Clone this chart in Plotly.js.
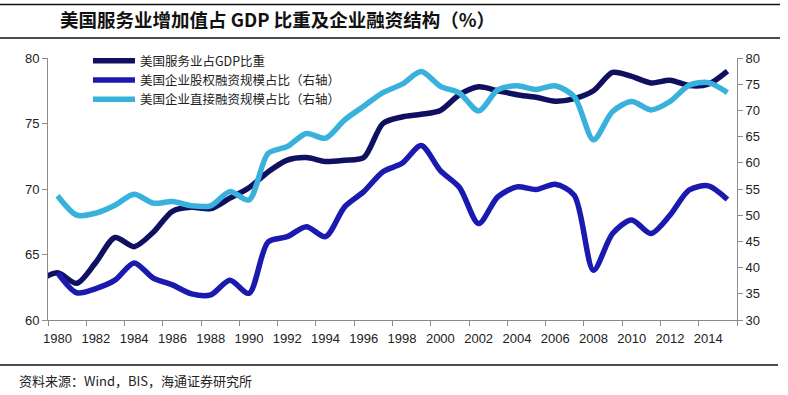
<!DOCTYPE html>
<html>
<head>
<meta charset="utf-8">
<script src="https://cdn.plot.ly/plotly-3.0.1.min.js"></script>
<style>html,body{margin:0;padding:0;background:#fff;}#chart{width:788px;height:395px;}</style>
</head>
<body>
<div id="chart"></div>
<script>
// Data
var years = [1980,1981,1982,1983,1984,1985,1986,1987,1988,1989,1990,1991,1992,1993,1994,1995,1996,1997,1998,1999,2000,2001,2002,2003,2004,2005,2006,2007,2008,2009,2010,2011,2012,2013,2014,2015];
var tickYears = [1980,1982,1984,1986,1988,1990,1992,1994,1996,1998,2000,2002,2004,2006,2008,2010,2012,2014];
// services share of GDP (left axis); series starts before 1980 and enters from the left edge
var serviceYears = [1979].concat(years);
var serviceShare = [63.0,63.6,62.8,64.4,66.3,65.6,66.7,68.3,68.6,68.5,69.3,70.1,71.3,72.2,72.4,72.1,72.2,72.4,75.0,75.5,75.7,76.0,77.2,77.8,77.5,77.2,77.0,76.7,76.9,77.5,78.9,78.6,78.1,78.3,77.9,78.0,79.0];
// equity financing share (right axis)
var equityShare = [39.0,35.2,36.0,37.6,40.9,38.0,36.7,35.0,34.8,37.6,35.1,44.9,45.9,47.8,45.9,51.6,54.5,58.3,59.9,63.3,58.5,55.3,48.4,53.5,55.4,54.9,55.9,53.8,39.5,46.5,49.1,46.5,50.0,54.8,55.6,53.0];
// direct financing share (right axis)
var directShare = [53.7,50.0,50.4,51.9,54.0,52.3,52.6,51.8,51.8,54.5,52.9,61.8,63.1,65.6,64.7,68.2,70.8,73.4,75.0,77.4,74.6,73.3,69.9,73.9,74.7,74.0,74.7,72.6,64.4,69.8,71.7,70.1,71.7,74.8,75.3,73.4];
var names = ['美国服务业占GDP比重','美国企业股权融资规模占比（右轴）','美国企业直接融资规模占比（右轴）'];
var colors = ['#0f1060','#1a1ab0','#38b2dc'];
var titleText = '美国服务业增加值占 GDP 比重及企业融资结构（%）';
var sourceText = '资料来源：Wind，BIS，海通证券研究所';

var cjk = '"Noto Sans CJK SC", "Noto Sans", sans-serif';
var latin = '"Liberation Sans", Arial, sans-serif';

var traces = [
  {x: serviceYears, y: serviceShare, name: names[0], type: 'scatter', mode: 'lines',
   line: {color: colors[0], width: 5.5, shape: 'spline', smoothing: 0.8}, yaxis: 'y'},
  {x: years, y: equityShare, name: names[1], type: 'scatter', mode: 'lines',
   line: {color: colors[1], width: 5.5, shape: 'spline', smoothing: 0.8}, yaxis: 'y2'},
  {x: years, y: directShare, name: names[2], type: 'scatter', mode: 'lines',
   line: {color: colors[2], width: 5.5, shape: 'spline', smoothing: 0.8}, yaxis: 'y2'}
];

var axisColor = '#8c8c8c';
var layout = {
  width: 788, height: 395,
  margin: {l: 48, r: 51, t: 58, b: 75},
  paper_bgcolor: '#fff', plot_bgcolor: '#fff',
  showlegend: true,
  title: {text: '<b>' + titleText + '</b>', font: {family: cjk, size: 18.5, color: '#111'},
          xref: 'container', x: 60/788, xanchor: 'left', yref: 'container', y: 1 - 21/395, yanchor: 'middle'},
  legend: {x: 0.058, y: 1.045, xanchor: 'left', yanchor: 'top', bgcolor: 'rgba(0,0,0,0)',
           font: {family: cjk, size: 12.5, color: '#222'}, tracegroupgap: 0, itemwidth: 42},
  xaxis: {range: [1979.5, 2015.5], tickmode: 'array', tickvals: tickYears, ticktext: tickYears.map(String),
          ticks: '', showgrid: false, zeroline: false, showline: true, linecolor: axisColor, linewidth: 1,
          tickfont: {family: latin, size: 13, color: '#222'}, ticklabelstandoff: 6,
          minor: {tick0: 1979.5, dtick: 2, ticks: 'outside', ticklen: 5, tickcolor: axisColor, tickwidth: 1, showgrid: false},
          fixedrange: true},
  yaxis: {range: [60, 80], tickmode: 'linear', tick0: 60, dtick: 5, ticks: 'outside', ticklen: 5,
          tickcolor: axisColor, showgrid: false, zeroline: false, showline: true, linecolor: axisColor, linewidth: 1,
          tickfont: {family: latin, size: 13, color: '#222'}, fixedrange: true},
  yaxis2: {range: [30, 80], tickmode: 'linear', tick0: 30, dtick: 5, ticks: 'outside', ticklen: 5,
           tickcolor: axisColor, showgrid: false, zeroline: false, showline: true, linecolor: axisColor, linewidth: 1,
           overlaying: 'y', side: 'right', tickfont: {family: latin, size: 13, color: '#222'}, fixedrange: true},
  shapes: [
    {type: 'line', xref: 'paper', yref: 'paper', x0: -48/689, x1: 732/689, y0: (320-4.5)/262, y1: (320-4.5)/262, line: {color: '#111', width: 1.5}},
    {type: 'line', xref: 'paper', yref: 'paper', x0: -48/689, x1: 732/689, y0: (320-38)/262, y1: (320-38)/262, line: {color: '#111', width: 1.5}},
    {type: 'line', xref: 'paper', yref: 'paper', x0: -48/689, x1: 730/689, y0: (320-365)/262, y1: (320-365)/262, line: {color: '#111', width: 1.5}}
  ],
  annotations: [
    {text: sourceText, xref: 'paper', yref: 'paper', x: (17-48)/689, y: (320-380)/262, xanchor: 'left', yanchor: 'middle',
     showarrow: false, font: {family: cjk, size: 13, color: '#222'}}
  ]
};

Plotly.newPlot('chart', traces, layout, {displayModeBar: false, staticPlot: true});
</script>
</body>
</html>
